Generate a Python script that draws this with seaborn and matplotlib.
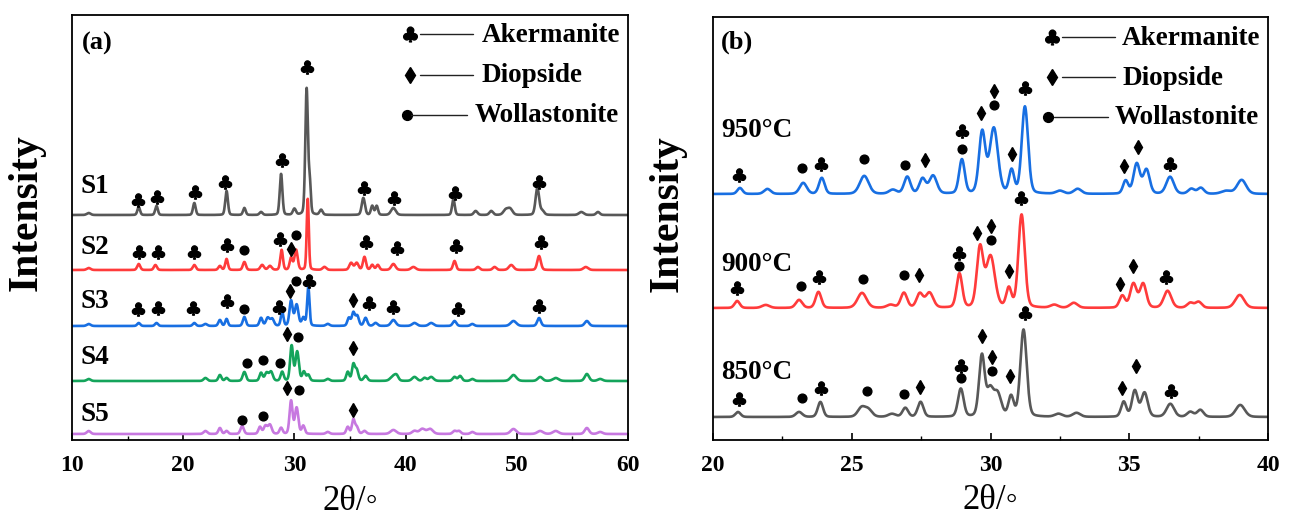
import numpy as np
import pandas as pd
import matplotlib
matplotlib.use("Agg")
import matplotlib.pyplot as plt
import seaborn as sns
from matplotlib.ticker import MultipleLocator

# ---------------- panel (a): samples S1-S5 ----------------
sample_names = ["S1", "S2", "S3", "S4", "S5"]

# reflections: (2theta, height, FWHM)
s1_peaks = [(11.5, 2, 0.4), (16.0, 8, 0.28), (17.6, 9, 0.28), (21.0, 12, 0.28), (23.9, 24, 0.28),
            (25.5, 7, 0.28), (27.0, 3, 0.32), (28.8, 41, 0.28), (30.0, 6, 0.32), (31.1, 126, 0.28),
            (31.38, 30, 0.22), (32.4, 5, 0.32), (36.2, 17, 0.34), (37.0, 9, 0.28), (37.4, 9, 0.28),
            (38.9, 7, 0.5), (44.3, 16, 0.28), (46.3, 4, 0.38), (47.7, 4, 0.38), (49.0, 5, 0.5),
            (49.4, 6, 0.5), (51.85, 27, 0.38), (52.3, 4, 0.38), (55.8, 3, 0.5), (57.3, 3, 0.38)]
s2_peaks = [(11.5, 2, 0.4), (16.0, 6, 0.32), (17.5, 5, 0.32), (21.0, 5, 0.32), (23.3, 4, 0.32),
            (23.9, 11, 0.28), (25.5, 8, 0.32), (27.1, 5, 0.38), (27.8, 4, 0.38), (28.85, 20, 0.28),
            (29.7, 12, 0.3), (30.15, 20, 0.34), (31.2, 71, 0.22), (32.7, 3, 0.38), (35.1, 7, 0.38),
            (35.6, 7, 0.38), (36.3, 13, 0.32), (37.0, 5, 0.32), (37.5, 5, 0.32), (38.9, 6, 0.45),
            (40.7, 3, 0.5), (44.4, 9, 0.32), (46.5, 3, 0.38), (48.0, 3, 0.38), (49.5, 5, 0.5),
            (52.0, 14, 0.38), (56.2, 3, 0.5)]
s3_peaks = [(11.5, 2, 0.4), (16.0, 3, 0.32), (17.6, 3, 0.32), (21.0, 3, 0.32), (22.0, 2, 0.38),
            (23.3, 6, 0.32), (23.9, 7, 0.28), (25.5, 9, 0.32), (27.0, 8, 0.32), (27.6, 8, 0.38),
            (28.0, 7, 0.38), (28.9, 14, 0.28), (29.7, 25, 0.34), (30.2, 21, 0.38), (30.8, 8, 0.32),
            (31.25, 39, 0.25), (33.0, 2, 0.38), (34.9, 8, 0.32), (35.3, 13, 0.32), (35.65, 10, 0.35),
            (36.4, 8, 0.35), (37.3, 3, 0.38), (38.9, 6, 0.5), (40.8, 3, 0.5), (42.3, 3, 0.5),
            (44.4, 5, 0.38), (46.0, 2, 0.38), (49.7, 5, 0.6), (52.0, 8, 0.38), (56.3, 5, 0.45)]
s4_peaks = [(11.5, 2, 0.4), (22.0, 3, 0.38), (23.3, 6, 0.32), (23.9, 3, 0.32), (25.5, 9, 0.35),
            (27.0, 8, 0.32), (27.5, 8, 0.38), (27.9, 9, 0.38), (28.9, 9, 0.32), (29.75, 35, 0.32),
            (30.25, 29, 0.36), (30.85, 9, 0.32), (31.25, 6, 0.32), (33.0, 2, 0.38), (34.8, 9, 0.32),
            (35.3, 16, 0.3), (35.6, 11, 0.34), (36.4, 5, 0.38), (38.9, 5, 0.6), (39.2, 4, 0.38),
            (40.8, 4, 0.5), (41.7, 3, 0.38), (42.3, 4, 0.5), (44.4, 4, 0.38), (44.9, 5, 0.38),
            (46.0, 2, 0.38), (49.7, 6, 0.6), (52.1, 4, 0.5), (53.5, 3, 0.6), (56.3, 7, 0.45),
            (57.5, 2, 0.5)]
s5_peaks = [(11.5, 3, 0.4), (22.0, 3, 0.38), (23.3, 6, 0.32), (23.9, 3, 0.32), (25.3, 8, 0.35),
            (26.9, 7, 0.32), (27.4, 8, 0.38), (27.8, 9, 0.38), (28.8, 6, 0.32), (29.7, 33, 0.32),
            (30.2, 26, 0.36), (30.8, 8, 0.32), (33.0, 2, 0.38), (34.8, 7, 0.32), (35.3, 14, 0.3),
            (35.6, 7, 0.34), (36.3, 3, 0.38), (38.9, 4, 0.6), (40.8, 3, 0.5), (41.5, 5, 0.6),
            (42.2, 5, 0.6), (44.4, 3, 0.38), (44.8, 3, 0.38), (46.0, 2, 0.38), (49.7, 5, 0.6),
            (52.1, 3, 0.6), (53.5, 3, 0.6), (56.3, 6, 0.45), (57.5, 2, 0.5)]

# phase marks: (phase, 2theta, height of the mark above the pattern baseline)
s1_marks = [("A", 15.9, 15), ("A", 17.6, 18), ("A", 21.1, 23), ("A", 23.8, 33), ("A", 28.9, 55),
            ("A", 31.1, 148), ("A", 36.3, 27), ("A", 39.0, 17), ("A", 44.45, 22), ("A", 52.0, 33)]
s2_marks = [("A", 16.0, 18), ("A", 17.75, 18), ("A", 21.0, 18), ("A", 23.9, 25), ("W", 25.5, 20),
            ("A", 28.7, 31), ("D", 29.7, 21), ("W", 30.1, 35), ("A", 36.4, 28), ("A", 39.2, 22),
            ("A", 44.5, 24), ("A", 52.2, 28)]
s3_marks = [("A", 15.9, 17), ("A", 17.7, 18), ("A", 20.9, 18), ("A", 23.9, 25), ("W", 25.5, 17),
            ("A", 28.6, 19), ("D", 29.6, 35), ("W", 30.1, 45), ("A", 31.3, 45), ("D", 35.3, 26),
            ("A", 36.7, 23), ("A", 38.9, 19), ("A", 44.7, 17), ("A", 52.0, 20)]
s4_marks = [("W", 25.7, 18), ("W", 27.2, 21), ("W", 28.7, 18), ("D", 29.3, 47), ("W", 30.35, 44),
            ("D", 35.3, 33)]
s5_marks = [("W", 25.3, 14), ("W", 27.2, 18), ("D", 29.3, 46), ("W", 30.4, 44), ("D", 35.3, 24)]

# ---------------- panel (b): sintering temperature ----------------
temp_names = ["950\u00b0C", "900\u00b0C", "850\u00b0C"]

t950_peaks = [(20.97, 6, 0.22), (21.96, 5, 0.28), (23.25, 11, 0.3), (23.92, 16, 0.24), (25.45, 18, 0.38),
              (26.48, 4, 0.32), (27.0, 17, 0.27), (27.55, 15, 0.27), (27.93, 18, 0.32), (28.97, 34, 0.24),
              (29.7, 61, 0.27), (30.12, 65, 0.35), (30.76, 23, 0.22), (31.24, 87, 0.27), (32.5, 3, 0.32),
              (33.14, 5, 0.32), (34.87, 13, 0.22), (35.27, 30, 0.27), (35.62, 24, 0.27), (36.47, 17, 0.32),
              (37.24, 5, 0.27), (37.58, 6, 0.27), (38.5, 3, 0.42), (39.05, 14, 0.38)]
t900_peaks = [(20.87, 7, 0.22), (21.9, 3, 0.32), (23.1, 8, 0.27), (23.8, 16, 0.24), (25.37, 15, 0.38),
              (26.4, 3, 0.32), (26.88, 15, 0.27), (27.45, 14, 0.27), (27.8, 15, 0.32), (28.88, 34, 0.24),
              (29.62, 59, 0.27), (30.0, 51, 0.37), (30.66, 19, 0.22), (31.12, 93, 0.27), (32.3, 3, 0.32),
              (33.0, 5, 0.32), (34.75, 12, 0.24), (35.15, 24, 0.27), (35.5, 24, 0.27), (36.38, 17, 0.32),
              (37.2, 5, 0.27), (37.5, 6, 0.27), (38.98, 13, 0.38)]
t850_peaks = [(20.9, 5, 0.22), (23.1, 5, 0.27), (23.87, 15, 0.22), (25.35, 9, 0.32), (25.6, 7, 0.32),
              (26.45, 3, 0.32), (26.93, 9, 0.24), (27.48, 15, 0.24), (28.93, 28, 0.24), (29.69, 61, 0.24),
              (29.98, 25, 0.27), (30.25, 23, 0.32), (30.74, 20, 0.22), (31.19, 87, 0.27), (32.45, 3, 0.32),
              (33.1, 4, 0.32), (34.8, 15, 0.22), (35.2, 26, 0.24), (35.55, 24, 0.27), (36.48, 13, 0.32),
              (37.2, 5, 0.27), (37.56, 7, 0.27), (39.0, 12, 0.38)]

t950_marks = [("A", 20.95, 19), ("W", 23.2, 26), ("A", 23.9, 30), ("W", 25.43, 35), ("W", 26.93, 29),
              ("D", 27.65, 34), ("A", 28.96, 63), ("W", 28.96, 45), ("D", 29.66, 81), ("W", 30.14, 89),
              ("D", 30.14, 103), ("D", 30.77, 40), ("A", 31.26, 106), ("D", 34.8, 28), ("D", 35.3, 47),
              ("A", 36.46, 30)]
t900_marks = [("A", 20.88, 20), ("W", 23.16, 22), ("A", 23.83, 31), ("W", 25.39, 29), ("W", 26.9, 33),
              ("D", 27.43, 33), ("A", 28.86, 55), ("W", 28.86, 42), ("D", 29.5, 75), ("D", 30.0, 82),
              ("W", 30.0, 68), ("D", 30.66, 37), ("A", 31.11, 110), ("D", 34.65, 24), ("D", 35.15, 42),
              ("A", 36.31, 31)]
t850_marks = [("A", 20.95, 18), ("W", 23.2, 19), ("A", 23.9, 29), ("W", 25.54, 26), ("W", 26.9, 23),
              ("D", 27.45, 30), ("A", 28.93, 51), ("W", 28.93, 39), ("D", 29.7, 81), ("D", 30.07, 60),
              ("W", 30.07, 46), ("D", 30.7, 41), ("A", 31.23, 104), ("D", 34.73, 29), ("D", 35.23, 51),
              ("A", 36.5, 26)]

phase_names = {"A": "Akermanite", "D": "Diopside", "W": "Wollastonite"}

# ---------------- styling ----------------
sns.set_theme(style="white")
plt.rcParams["font.family"] = ["Liberation Serif", "DejaVu Sans"]
plt.rcParams["font.weight"] = "bold"
plt.rcParams["axes.linewidth"] = 1.3
plt.rcParams["text.color"] = "black"
plt.rcParams["axes.labelcolor"] = "black"
plt.rcParams["xtick.color"] = "black"
plt.rcParams["ytick.color"] = "black"

sample_colors = ["#585858", "#ff3b3b", "#186fe2", "#14a45b", "#c778e0"]
sample_offsets = [225, 170, 114, 59, 6]
sample_label_lift = [22, 16, 18, 17, 13]
temp_colors = ["#186fe2", "#ff3b3b", "#585858"]
temp_offsets = [246, 132, 23]
temp_label_lift = [57, 37, 38]

mark_style = {
    "A": dict(marker="$\u2663$", ms=9.5),
    "D": dict(marker="d", ms=7.2),
    "W": dict(marker="o", ms=6.3),
}


def pattern(x, peaks):
    y = np.zeros_like(x)
    for c, h, w in peaks:
        d = (x - c) / w
        y += h * (0.8 * np.exp(-4 * np.log(2) * d ** 2) + 0.2 / (1 + 4 * d ** 2))
    return y


def draw_panel(ax, xgrid, names, peak_sets, mark_sets, colors, offsets, lifts, label_x):
    frames = []
    for name, peaks, off in zip(names, peak_sets, offsets):
        frames.append(pd.DataFrame({"two_theta": xgrid, "intensity": pattern(xgrid, peaks) + off,
                                    "pattern": name}))
    # top pattern first, each lower one is drawn over the one above it
    for i in range(len(names)):
        sns.lineplot(data=frames[i], x="two_theta", y="intensity", ax=ax, color=colors[i],
                     lw=1.9, estimator=None, sort=False, legend=False)
    for marks, off in zip(mark_sets, offsets):
        for ph, pos, lev in marks:
            ax.plot([pos], [off + lev], ls="none", color="black", mec="black", **mark_style[ph])
    for name, off, lift in zip(names, offsets, lifts):
        ax.text(label_x, off + lift, name, fontsize=19.5, fontweight="bold", va="baseline", ha="left",
                color="black")


def draw_key(ax, rows):
    for ph, sx, sy, lx0, lx1, tx, ty in rows:
        st = dict(mark_style[ph])
        st["ms"] = st["ms"] * 1.12
        ax.plot([sx], [sy], ls="none", color="black", transform=ax.transAxes, clip_on=False, **st)
        ax.plot([lx0, lx1], [sy, sy], color="#222222", lw=1.0, transform=ax.transAxes, clip_on=False)
        ax.text(tx, ty, phase_names[ph], transform=ax.transAxes, fontsize=19.5, fontweight="bold",
                va="baseline", ha="left", color="black")


def style_axes(ax, xlim, major, minor, ylim, tag, tag_xy):
    ax.set_xlim(*xlim)
    ax.set_ylim(*ylim)
    ax.set_yticks([])
    ax.xaxis.set_major_locator(MultipleLocator(major))
    ax.xaxis.set_minor_locator(MultipleLocator(minor))
    ax.tick_params(axis="x", which="major", direction="in", length=5, width=1.2, labelsize=17,
                   pad=11, bottom=True, top=False, colors="black")
    ax.tick_params(axis="x", which="minor", direction="in", length=3, width=1.0, bottom=True, top=False)
    for lab in ax.get_xticklabels():
        lab.set_fontweight("bold")
    for sp in ax.spines.values():
        sp.set_visible(True)
        sp.set_color("black")
        sp.set_linewidth(1.3)
    ax.set_xlabel("2\u03b8/\u25e6", fontsize=25, fontweight="normal", color="black")
    ax.xaxis.set_label_coords(0.5, -0.105)
    ax.set_ylabel("Intensity", fontsize=30, fontweight="bold", color="black")
    ax.yaxis.set_label_coords(-0.047, 0.535)
    ax.text(tag_xy[0], tag_xy[1], tag, transform=ax.transAxes, fontsize=19, fontweight="bold",
            va="center", ha="left", color="black")


fig = plt.figure(figsize=(12.89, 5.25), dpi=100)
fig.patch.set_facecolor("white")
ax_a = fig.add_axes([72 / 1289, 1 - 440 / 525, 556 / 1289, 425 / 525])
ax_b = fig.add_axes([713 / 1289, 1 - 440 / 525, 555 / 1289, 423 / 525])

xa = np.linspace(10, 60, 5001)
draw_panel(ax_a, xa, sample_names, [s1_peaks, s2_peaks, s3_peaks, s4_peaks, s5_peaks],
           [s1_marks, s2_marks, s3_marks, s4_marks, s5_marks], sample_colors, sample_offsets,
           sample_label_lift, 10.75)
style_axes(ax_a, (10, 60), 10, 5, (0, 425), "(a)", (0.018, 0.934))
draw_key(ax_a, [("A", 0.608, 0.955, 0.626, 0.721, 0.737, 0.9365),
                ("D", 0.608, 0.859, 0.626, 0.721, 0.737, 0.8424),
                ("W", 0.6025, 0.765, 0.610, 0.710, 0.725, 0.7482)])

xb = np.linspace(20, 40, 4001)
draw_panel(ax_b, xb, temp_names, [t950_peaks, t900_peaks, t850_peaks],
           [t950_marks, t900_marks, t850_marks], temp_colors, temp_offsets, temp_label_lift, 20.28)
style_axes(ax_b, (20, 40), 5, 2.5, (0, 423), "(b)", (0.0144, 0.941))
draw_key(ax_b, [("A", 0.611, 0.953, 0.629, 0.724, 0.737, 0.934),
                ("D", 0.611, 0.858, 0.629, 0.724, 0.737, 0.8392),
                ("W", 0.603, 0.764, 0.614, 0.712, 0.724, 0.747)])

fig.savefig("out.png", dpi=100, facecolor="white")
